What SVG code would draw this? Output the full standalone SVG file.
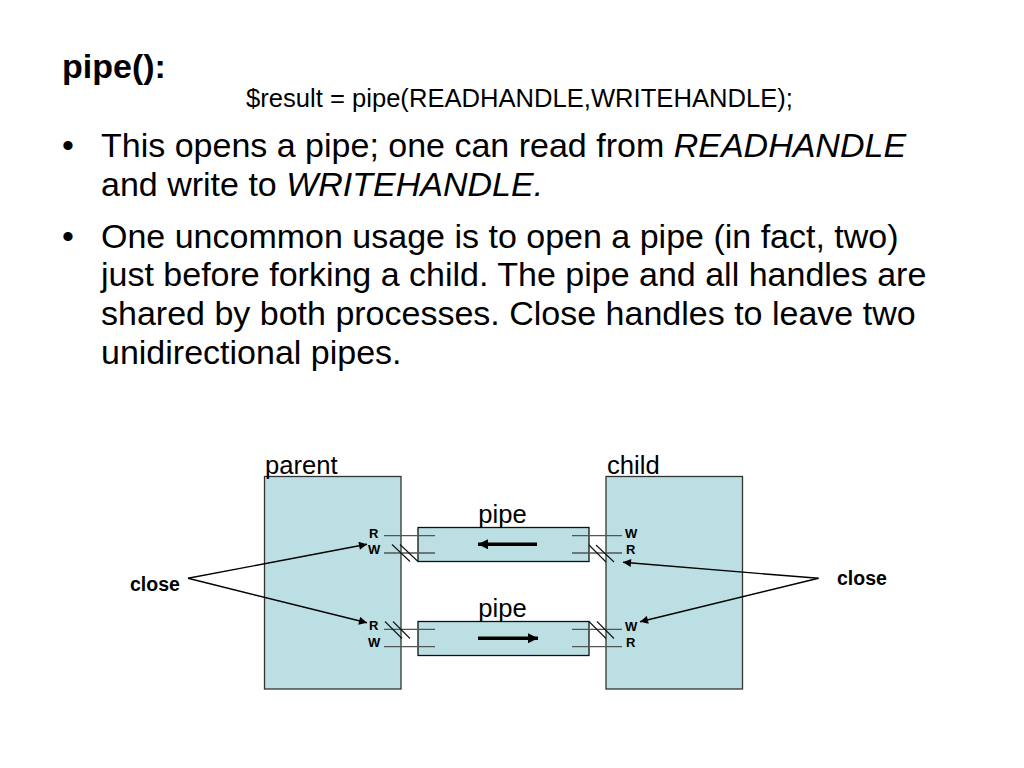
<svg xmlns="http://www.w3.org/2000/svg" width="1024" height="768" viewBox="0 0 1024 768">
<style>
text { font-family: "Liberation Sans", Arial, sans-serif; fill: #000; }
.title { font-size: 34px; font-weight: bold; }
.body { font-size: 34px; }
.code { font-size: 25.6px; }
.lbl { font-size: 25.6px; }
.close { font-size: 19.5px; font-weight: bold; }
.hw { font-size: 13px; font-weight: bold; }
.proc { fill: #bbdfe3; stroke: #333; stroke-width: 1.3; }
.pipe { fill: #bbdfe3; stroke: #111; stroke-width: 1.3; }
.hl { stroke: #555; stroke-width: 1.3; fill: none; }
.hatch { stroke: #111; stroke-width: 1.1; fill: none; }
.flow { stroke: #000; stroke-width: 3.5; fill: none; }
.conn { stroke: #000; stroke-width: 1.4; fill: none; }
</style>
<defs>
<marker id="ah" viewBox="0 0 10 10" refX="10" refY="5" markerWidth="10" markerHeight="8" markerUnits="userSpaceOnUse" orient="auto">
<path d="M0,0 L10,5 L0,10 z" fill="#000"/>
</marker>
<marker id="fh" viewBox="0 0 10 10" refX="10" refY="5" markerWidth="12" markerHeight="10" markerUnits="userSpaceOnUse" orient="auto">
<path d="M0,0 L10,5 L0,10 z" fill="#000"/>
</marker>
</defs>
<rect width="1024" height="768" fill="#fff"/>

<g id="heading">
<text class="title" x="62" y="78">pipe():</text>
<text class="code" x="246" y="107">$result = pipe(READHANDLE,WRITEHANDLE);</text>
</g>

<g id="bullets">
<text class="body" x="62" y="157">•</text>
<text class="body" x="101" y="157">This opens a pipe; one can read from <tspan font-style="italic">READHANDLE</tspan></text>
<text class="body" x="101" y="196">and write to <tspan font-style="italic">WRITEHANDLE.</tspan></text>
<text class="body" x="62" y="247.5">•</text>
<text class="body" x="101" y="247.5">One uncommon usage is to open a pipe (in fact, two)</text>
<text class="body" x="101" y="286.3">just before forking a child. The pipe and all handles are</text>
<text class="body" x="101" y="325">shared by both processes. Close handles to leave two</text>
<text class="body" x="101" y="363.7">unidirectional pipes.</text>
</g>

<g id="parent">
<rect class="proc" x="264.5" y="476.5" width="136.5" height="212.5"/>
<text class="lbl" x="265" y="474">parent</text>
<text class="hw" x="369" y="537.7">R</text>
<text class="hw" x="368" y="554.3">W</text>
<text class="hw" x="369" y="629.5">R</text>
<text class="hw" x="368" y="646.7">W</text>
</g>

<g id="child">
<rect class="proc" x="606" y="476.5" width="136.5" height="212.5"/>
<text class="lbl" x="607" y="474">child</text>
<text class="hw" x="625" y="537.7">W</text>
<text class="hw" x="626" y="554.3">R</text>
<text class="hw" x="625" y="630.5">W</text>
<text class="hw" x="626" y="646.7">R</text>
</g>

<g id="pipe1">
<rect class="pipe" x="418" y="527.5" width="171" height="34"/>
<text class="lbl" x="502.5" y="523" text-anchor="middle">pipe</text>
</g>

<g id="pipe2">
<rect class="pipe" x="418" y="621.5" width="171" height="34"/>
<text class="lbl" x="502.5" y="617" text-anchor="middle">pipe</text>
</g>

<g id="close-left">
<text class="close" x="130" y="591">close</text>
</g>
<g id="close-right">
<text class="close" x="837" y="585">close</text>
</g>

<g id="connectors">
<line class="hl" x1="384" y1="535.7" x2="435" y2="535.7"/>
<line class="hl" x1="384" y1="553" x2="435" y2="553"/>
<line class="hl" x1="384" y1="629.3" x2="435" y2="629.3"/>
<line class="hl" x1="384" y1="646.7" x2="435" y2="646.7"/>
<line class="hl" x1="572" y1="535.7" x2="622" y2="535.7"/>
<line class="hl" x1="572" y1="553" x2="622" y2="553"/>
<line class="hl" x1="572" y1="629.3" x2="622" y2="629.3"/>
<line class="hl" x1="572" y1="646.7" x2="622" y2="646.7"/>
<line class="hatch" x1="392" y1="544.5" x2="410" y2="561.5"/>
<line class="hatch" x1="400" y1="544.5" x2="418" y2="561.5"/>
<line class="hatch" x1="385" y1="621.5" x2="402" y2="638.5"/>
<line class="hatch" x1="393" y1="621.5" x2="410" y2="638.5"/>
<line class="hatch" x1="589" y1="545" x2="606" y2="562"/>
<line class="hatch" x1="596" y1="545" x2="614" y2="562"/>
<line class="hatch" x1="589" y1="621.5" x2="606" y2="638.5"/>
<line class="hatch" x1="597" y1="621.5" x2="614" y2="638.5"/>
<line class="flow" x1="537" y1="544.3" x2="478" y2="544.3" marker-end="url(#fh)"/>
<line class="flow" x1="478" y1="638.3" x2="538" y2="638.3" marker-end="url(#fh)"/>
<line class="conn" x1="188" y1="578.3" x2="367" y2="544.3" marker-end="url(#ah)"/>
<line class="conn" x1="188" y1="578.3" x2="367" y2="622.7" marker-end="url(#ah)"/>
<line class="conn" x1="818.5" y1="578.3" x2="623" y2="562.3" marker-end="url(#ah)"/>
<line class="conn" x1="818.5" y1="578.3" x2="640" y2="621.7" marker-end="url(#ah)"/>
</g>
</svg>
